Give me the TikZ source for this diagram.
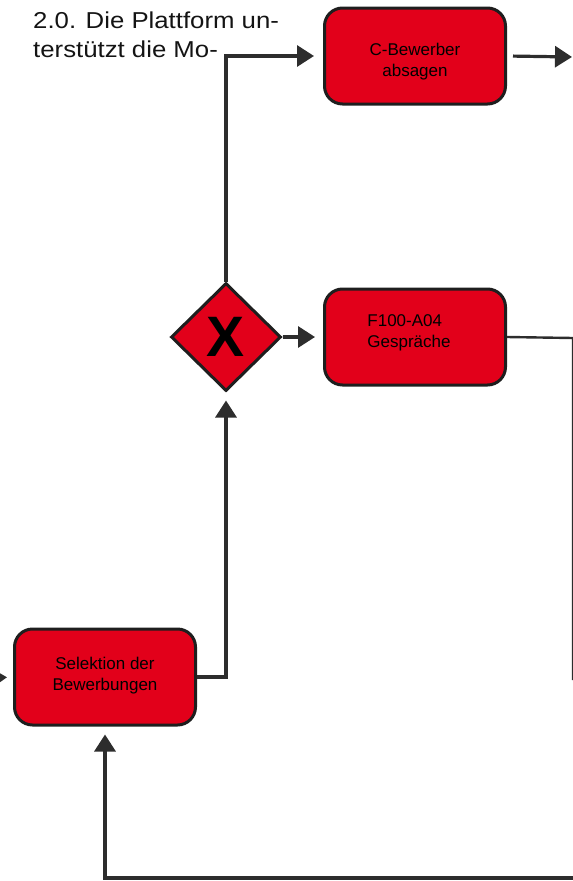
\documentclass[tikz,border=0pt]{standalone}
\usepackage{fontspec}
\setmainfont{Liberation Sans}
\newfontfamily\topfont[FakeStretch=1.12]{Liberation Sans}
\usetikzlibrary{shapes.geometric,arrows.meta}
\definecolor{boxred}{RGB}{226,0,26}
\definecolor{edgedark}{RGB}{30,30,30}
\definecolor{linedark}{RGB}{45,45,45}
\definecolor{textdark}{RGB}{20,20,20}
\tikzset{
  taskbox/.style={draw=edgedark, line width=3pt, fill=boxred, rounded corners=18pt,
    minimum width=181pt, minimum height=96pt, inner sep=0pt},
  boxtext/.style={align=center, inner sep=0pt,
    font=\fontsize{17}{21}\selectfont, text=black},
  gateway/.style={diamond, draw=edgedark, line width=3pt, fill=boxred,
    minimum width=110pt, minimum height=108pt, inner sep=0pt,
    font=\bfseries\fontsize{57}{57}\selectfont, text=black},
  flow/.style={draw=linedark, line width=3.2pt,
    -{Triangle[length=17pt,width=21pt]}},
  plainflow/.style={draw=linedark, line width=3.2pt},
  toptext/.style={anchor=base west, inner sep=0pt, text=textdark,
    font=\topfont\fontsize{23}{29}\selectfont}
}
\begin{document}
\begin{tikzpicture}[x=1pt,y=-1pt]
\useasboundingbox (0,0) rectangle (573,881);
% text
\node[toptext] (t1) at (33,28) {2.0. Die Plattform un-};
\node[toptext] (t2) at (33,57) {terstützt die Mo-};
% nodes
\node[taskbox, label={[boxtext, yshift=-6pt]center:C-Bewerber\\absagen}] (cb) at (415,56) {};
\node[gateway] (gw) at (226,337) {X};
\node[taskbox, label={[boxtext, align=left, yshift=4pt, xshift=-6pt]center:F100-A04\\Gespräche}] (fg) at (415,337) {};
\node[taskbox, label={[boxtext, yshift=1pt]center:Selektion der\\Bewerbungen}] (sel) at (105,677) {};
% free ends
\coordinate (outR) at (573,57);
\coordinate (inL) at (-30,679);
\coordinate (edgeR) at (573,338);
\coordinate (edgeEnd) at (573,680);
\coordinate (botR) at (580,878);
% connectors
\draw[flow, shorten >=9pt] (gw.north) |- (cb.west);
\draw[flow, shorten <=6pt, shorten >=1pt] (cb.east) -- (outR);
\draw[flow, shorten >=8pt] (gw.east) -- (fg.west);
\draw[plainflow, line width=2.4pt] (fg.east) -- (edgeR) -- (edgeEnd);
\draw[flow, shorten >=6pt] (inL) -- (sel.west);
\draw[flow, shorten >=8pt] (sel.east) -| (gw.south);
\draw[flow, shorten >=8pt] (botR) -| (sel.south);
\end{tikzpicture}
\end{document}
